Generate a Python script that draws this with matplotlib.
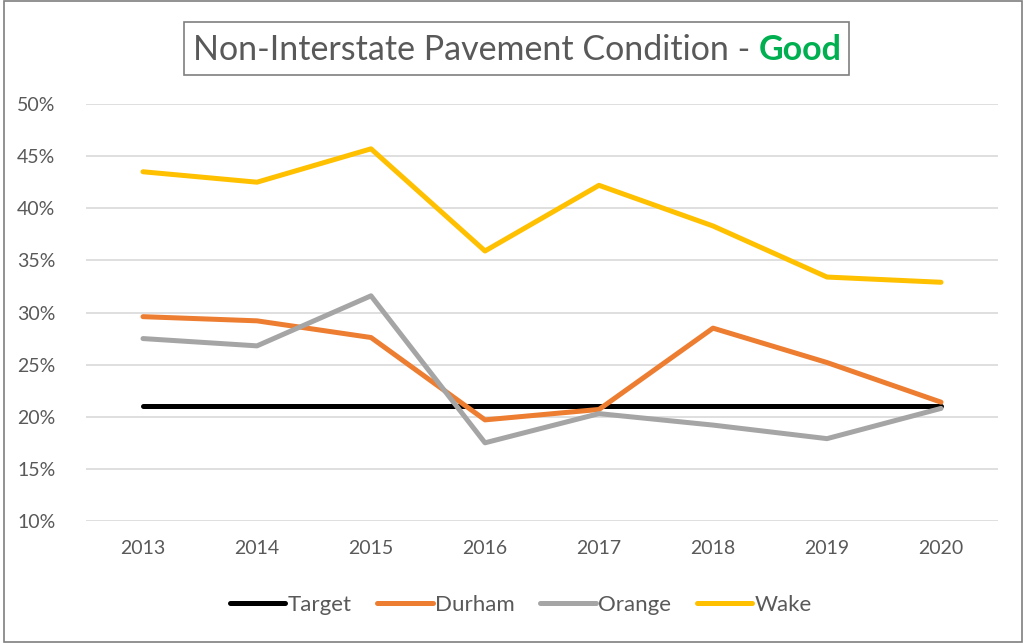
import matplotlib.pyplot as plt
from matplotlib.patches import Rectangle

years = ["2013", "2014", "2015", "2016", "2017", "2018", "2019", "2020"]
target = [0.21, 0.21, 0.21, 0.21, 0.21, 0.21, 0.21, 0.21]
durham = [0.296, 0.292, 0.276, 0.197, 0.207, 0.285, 0.252, 0.214]
orange = [0.275, 0.268, 0.316, 0.175, 0.203, 0.192, 0.179, 0.208]
wake = [0.435, 0.425, 0.457, 0.359, 0.422, 0.383, 0.334, 0.329]

names = ["Target", "Durham", "Orange", "Wake"]
colors = ["#000000", "#ED7D31", "#A5A5A5", "#FFC000"]

plt.rcParams['font.family'] = ['Lato', 'DejaVu Sans']
txt = "#595959"

fig = plt.figure(figsize=(10.23, 6.43), dpi=100)
W, H = 1023, 643
ax = fig.add_axes([86 / W, 1 - 521 / H, (998 - 86) / W, (521 - 104) / H])

x = list(range(len(years)))
for s, n, c in zip([target, durham, orange, wake], names, colors):
    ax.plot(x, s, color=c, lw=3.6, label=n, solid_capstyle='round', solid_joinstyle='round')

ax.set_xlim(-0.5, len(years) - 0.5)
ax.set_ylim(0.10, 0.50)
ax.set_yticks([0.10, 0.15, 0.20, 0.25, 0.30, 0.35, 0.40, 0.45, 0.50])
ax.set_yticklabels([f"{int(round(v * 100))}%" for v in ax.get_yticks()])
ax.set_xticks(x)
ax.set_xticklabels(years)
ax.tick_params(length=0, labelsize=14, colors=txt)
ax.tick_params(axis='y', pad=22)
ax.tick_params(axis='x', pad=14)
ax.grid(axis='y', color="#D9D9D9", lw=1.2)
ax.set_axisbelow(True)
for sp in ax.spines.values():
    sp.set_visible(False)

leg = fig.legend(loc='center', bbox_to_anchor=(0.509, 1 - 605 / H), ncol=4, frameon=False,
                 fontsize=16, handlelength=2.5, handletextpad=0.1, columnspacing=1.15)
for t in leg.get_texts():
    t.set_color(txt)

# title box
fig.patches.append(Rectangle((184 / W, 1 - 75 / H), (849 - 184) / W, 53 / H,
                             transform=fig.transFigure, fill=False, ec="#7F7F7F", lw=1.2))
t1 = fig.text(193 / W, 1 - 50 / H, "Non-Interstate Pavement Condition - ", fontsize=24.5,
              color=txt, va='center', ha='left')
fig.canvas.draw()
bb = t1.get_window_extent()
fig.text(bb.x1 / W, 1 - 50 / H, "Good", fontsize=24.5, color="#00B050",
         fontweight='bold', va='center', ha='left')

# outer border
fig.patches.append(Rectangle((4 / W, 0.002), 1 - 5 / W, 0.996, transform=fig.transFigure,
                             fill=False, ec="#7F7F7F", lw=1.2))

fig.savefig("out.png", dpi=100)
